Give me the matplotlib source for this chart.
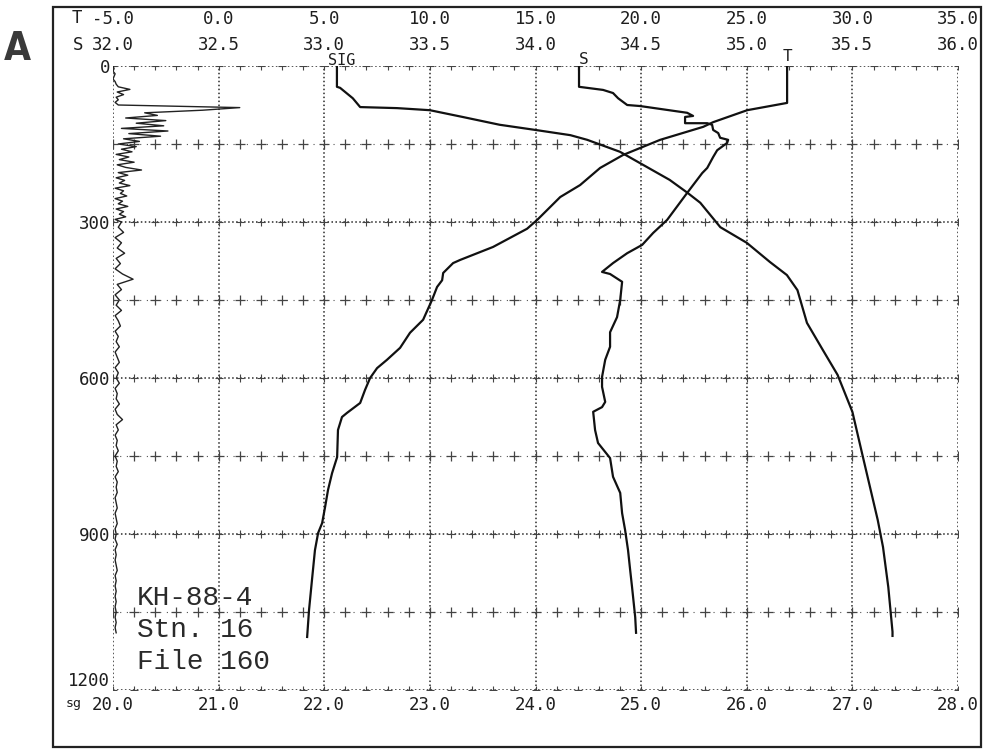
import numpy as np
import matplotlib
matplotlib.use("Agg")
import matplotlib.pyplot as plt
from matplotlib.patches import Rectangle

# ---- CTD profile, cruise KH-88-4, station 16 ----
# sigma-t
sig_depth = [0, 40, 42, 62, 79, 81, 85, 98, 113, 123, 133, 142, 165, 219, 244,
             263, 310, 340, 377, 402, 431, 494, 546, 594, 665, 752, 873, 925,
             1002, 1088, 1096]
sig_vals = [22.12, 22.12, 22.15, 22.27, 22.34, 22.69, 23.00, 23.31, 23.66, 24.00,
            24.33, 24.49, 24.80, 25.27, 25.44, 25.56, 25.75, 26.00, 26.22, 26.38,
            26.48, 26.57, 26.72, 26.86, 27.00, 27.10, 27.24, 27.29, 27.34, 27.38,
            27.38]

# temperature (deg C)
temp_depth = [0, 71, 85, 108, 117, 142, 171, 196, 229, 252, 296, 313, 348, 373,
              379, 398, 412, 425, 450, 488, 513, 542, 565, 581, 600, 623, 648,
              667, 675, 700, 752, 783, 815, 848, 879, 898, 931, 988, 1046, 1098]
temp_vals = [26.91, 26.91, 25.02, 23.41, 22.94, 20.90, 19.15, 18.06, 17.11, 16.17,
             15.08, 14.60, 12.99, 11.43, 11.10, 10.63, 10.58, 10.34, 10.10, 9.68,
             9.06, 8.59, 7.97, 7.50, 7.17, 6.93, 6.70, 6.08, 5.84, 5.65, 5.61,
             5.37, 5.18, 5.04, 4.90, 4.71, 4.56, 4.42, 4.28, 4.19]

# salinity
sal_depth = [0, 40, 42, 46, 52, 62, 75, 77, 90, 96, 98, 110, 110, 113, 123, 129,
             138, 142, 148, 162, 175, 196, 206, 244, 296, 321, 344, 360, 379,
             396, 400, 415, 450, 483, 512, 540, 565, 598, 617, 646, 656, 665,
             700, 725, 754, 790, 821, 860, 892, 931, 969, 1002, 1060, 1090]
sal_vals = [34.206, 34.206, 34.244, 34.320, 34.367, 34.391, 34.434, 34.495,
            34.718, 34.746, 34.708, 34.708, 34.813, 34.836, 34.841, 34.865,
            34.874, 34.912, 34.907, 34.860, 34.841, 34.813, 34.789, 34.718,
            34.623, 34.557, 34.505, 34.434, 34.367, 34.315, 34.353, 34.410,
            34.401, 34.386, 34.353, 34.353, 34.330, 34.315, 34.315, 34.330,
            34.315, 34.273, 34.282, 34.296, 34.353, 34.367, 34.401, 34.410,
            34.424, 34.438, 34.448, 34.457, 34.472, 34.476]

# auxiliary sensor trace (relative units, 5 m bins to 300 m, 10 m below)
trace_upper = [0.00, 0.01, 0.00, 0.02, 0.01, 0.00, 0.02, 0.03, 0.05, 0.16,
               0.04, 0.10, 0.03, 0.05, 0.02, 0.05, 1.20, 0.85, 0.30, 0.42,
               0.12, 0.50, 0.22, 0.48, 0.08, 0.52, 0.15, 0.45, 0.10, 0.25,
               0.05, 0.22, 0.08, 0.18, 0.03, 0.15, 0.06, 0.20, 0.04, 0.12,
               0.27, 0.05, 0.14, 0.03, 0.11, 0.06, 0.16, 0.02, 0.10, 0.07,
               0.13, 0.02, 0.09, 0.05, 0.14, 0.03, 0.10, 0.06, 0.12, 0.02,
               0.08]
trace_lower = [0.05, 0.10, 0.02, 0.08, 0.04, 0.11, 0.03, 0.07, 0.02, 0.09,
               0.19, 0.04, 0.08, 0.02, 0.06, 0.03, 0.08, 0.02, 0.05, 0.07,
               0.02, 0.05, 0.03, 0.06, 0.02, 0.04, 0.06, 0.02, 0.05, 0.03,
               0.06, 0.02, 0.04, 0.03, 0.06, 0.02, 0.04, 0.09, 0.03, 0.05,
               0.02, 0.04, 0.03, 0.05, 0.02, 0.04, 0.03, 0.05, 0.02, 0.04,
               0.03, 0.04, 0.02, 0.03, 0.04, 0.02, 0.03, 0.04, 0.02, 0.03,
               0.02, 0.04, 0.02, 0.03, 0.02, 0.03, 0.04, 0.02, 0.03, 0.02,
               0.03, 0.02, 0.03, 0.02, 0.03, 0.02, 0.03, 0.02, 0.03]
trace_vals = trace_upper + trace_lower
trace_depth = list(range(0, 301, 5)) + list(range(310, 1091, 10))

# axis scales
sig_ticks = [20.0, 21.0, 22.0, 23.0, 24.0, 25.0, 26.0, 27.0, 28.0]
temp_ticks = [-5.0, 0.0, 5.0, 10.0, 15.0, 20.0, 25.0, 30.0, 35.0]
sal_ticks = [32.0, 32.5, 33.0, 33.5, 34.0, 34.5, 35.0, 35.5, 36.0]
depth_ticks = [0, 300, 600, 900, 1200]
half_rows = [150, 450, 750, 1050]

W, H = 988, 750
INK = "#1e1e1e"
MONO = ["DejaVu Sans Mono"]

fig = plt.figure(figsize=(W / 100, H / 100), dpi=100, facecolor="white")
L, R, T, B = 113, 958, 66, 690
ax = fig.add_axes([L / W, 1 - B / H, (R - L) / W, (B - T) / H])
ax.set_xlim(sig_ticks[0], sig_ticks[-1])
ax.set_ylim(depth_ticks[-1], depth_ticks[0])
for s in ax.spines.values():
    s.set_visible(False)

# bottom sigma scale, left depth scale
ax.set_xticks(sig_ticks)
ax.set_xticklabels([f"{v:.1f}" for v in sig_ticks], family=MONO, fontsize=12.5, color=INK)
ax.set_yticks(depth_ticks)
ax.set_yticklabels([str(v) for v in depth_ticks], family=MONO, fontsize=12.5, color=INK)
ax.tick_params(axis="x", length=0, pad=4.5)
ax.tick_params(axis="y", length=0, pad=2)
# lift the deepest depth label a little so it sits above the sigma row
ax.get_yticklabels()[-1].set_va("bottom")

# dotted grid
dots = (0, (1.0, 1.6))
for x in sig_ticks:
    ax.axvline(x, ls=dots, lw=1.1, color="#2a2a2a", zorder=1)
for d in depth_ticks:
    ax.axhline(d, ls=dots, lw=1.1, color="#2a2a2a", zorder=1)
minor_x = [sig_ticks[0] + i * 0.2 for i in range(41)]
for d in depth_ticks:
    ax.plot(minor_x, [d] * len(minor_x), ls="none", marker="+", ms=6, mew=0.8,
            color="#444444", zorder=1)
for d in half_rows:
    ax.plot(minor_x, [d] * len(minor_x), ls=(0, (1.0, 5.0)), lw=0.8,
            color="#555555", marker="+", ms=7, mew=0.9, mec="#444444", zorder=1)

# temperature scale (top, first row)
ax_t = ax.twiny()
ax_t.set_xlim(temp_ticks[0], temp_ticks[-1])
ax_t.set_xticks(temp_ticks)
ax_t.set_xticklabels([f"{v:.1f}" for v in temp_ticks], family=MONO, fontsize=12.5, color=INK)
ax_t.tick_params(axis="x", length=0, pad=27.5)
for s in ax_t.spines.values():
    s.set_visible(False)

# salinity scale (top, second row)
ax_s = ax.twiny()
ax_s.set_xlim(sal_ticks[0], sal_ticks[-1])
ax_s.set_xticks(sal_ticks)
ax_s.set_xticklabels([f"{v:.1f}" for v in sal_ticks], family=MONO, fontsize=12.5, color=INK)
ax_s.tick_params(axis="x", length=0, pad=9)
for s in ax_s.spines.values():
    s.set_visible(False)

# auxiliary trace axis (no visible scale)
ax_f = ax.twiny()
ax_f.set_xlim(0, 8)
ax_f.xaxis.set_visible(False)
for s in ax_f.spines.values():
    s.set_visible(False)

lw = 1.6
ax.plot(sig_vals, sig_depth, color="#111111", lw=lw, zorder=3)
ax_t.plot(temp_vals, temp_depth, color="#111111", lw=lw, zorder=3)
ax_s.plot(sal_vals, sal_depth, color="#111111", lw=lw, zorder=3)
ax_f.plot(trace_vals, trace_depth, color="#222222", lw=1.0, zorder=3)

# curve names at the top of each profile
ax.annotate("SIG", xy=(sig_vals[0], 0), xytext=(3.5, 4), textcoords="offset points",
            ha="center", va="center", family=MONO, fontsize=11, color=INK,
            annotation_clip=False)
ax_s.annotate("S", xy=(sal_vals[0], 0), xytext=(3.5, 5), textcoords="offset points",
              ha="center", va="center", family=MONO, fontsize=11.5, color=INK,
              annotation_clip=False)
ax_t.annotate("T", xy=(temp_vals[0], 0), xytext=(0, 7), textcoords="offset points",
              ha="center", va="center", family=MONO, fontsize=11.5, color=INK,
              annotation_clip=False)

# scale prefixes
fig.text(77 / W, 1 - 18 / H, "T", family=MONO, fontsize=12.5, color=INK,
         ha="center", va="center")
fig.text(78 / W, 1 - 45 / H, "S", family=MONO, fontsize=12.5, color=INK,
         ha="center", va="center")
fig.text(66 / W, 1 - 703 / H, "sg", family=MONO, fontsize=9.5, color=INK,
         ha="left", va="center")

# station block
for yy, txt in [(598, "KH-88-4"), (630, "Stn. 16"), (662, "File 160")]:
    ax.text((137 - L) / (R - L), 1 - (yy - T) / (B - T), txt, transform=ax.transAxes,
            family=["Liberation Mono", "DejaVu Sans Mono"], fontsize=20,
            color="#2a2a2a", ha="left", va="center", zorder=4)

# panel letter and outer frame
fig.text(17 / W, 1 - 49 / H, "A", family=["DejaVu Sans"], fontstretch="condensed",
         fontsize=28, weight="bold", color="#3a3a3a", ha="center", va="center")
fig.patches.append(Rectangle((53 / W, 3 / H), (981 - 53) / W, (747 - 7) / H,
                             transform=fig.transFigure, fill=False, lw=1.6,
                             edgecolor="#222222"))

fig.savefig("out.png", dpi=100, facecolor="white")
